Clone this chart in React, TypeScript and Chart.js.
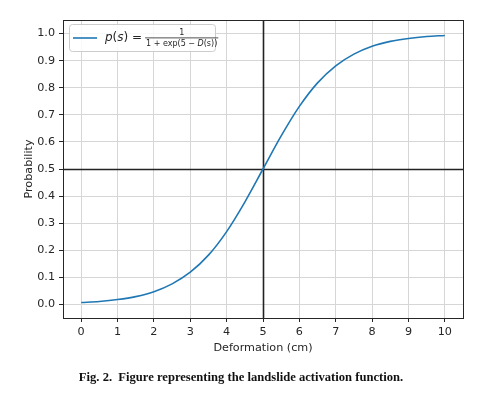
import React, { useEffect, useRef } from "react";
import { Chart, registerables } from "chart.js";

Chart.register(...registerables);

const deformation = [0, 0.5, 1, 1.5, 2, 2.5, 3, 3.5, 4, 4.5, 5, 5.5, 6, 6.5, 7, 7.5, 8, 8.5, 9, 9.5, 10];
const probability = [0.007, 0.011, 0.018, 0.029, 0.047, 0.076, 0.119, 0.182, 0.269, 0.378, 0.5, 0.622, 0.731, 0.818, 0.881, 0.924, 0.953, 0.971, 0.982, 0.989, 0.993];
const xTicks = [0, 1, 2, 3, 4, 5, 6, 7, 8, 9, 10];
const yTicks = [0, 0.1, 0.2, 0.3, 0.4, 0.5, 0.6, 0.7, 0.8, 0.9, 1.0];
const refX = 5;
const refY = 0.5;
const xTitle = "Deformation (cm)";
const yTitle = "Probability";
const caption = "Fig. 2.  Figure representing the landslide activation function.";

const FONT = "'DejaVu Sans', sans-serif";
const DARK = "#262626";
const BLUE = "#1f77b4";

const overlayPlugin = {
  id: "overlay",
  beforeDatasetsDraw(chart: any) {
    const { ctx, chartArea: a, scales } = chart;
    ctx.save();
    ctx.strokeStyle = "#222";
    ctx.lineWidth = 1.6;
    const px = Math.round(scales.x.getPixelForValue(refX)) + 0.5;
    const py = Math.round(scales.y.getPixelForValue(refY)) + 0.5;
    ctx.beginPath();
    ctx.moveTo(px, a.top);
    ctx.lineTo(px, a.bottom);
    ctx.moveTo(a.left, py);
    ctx.lineTo(a.right, py);
    ctx.stroke();
    ctx.restore();
  },
  afterDatasetsDraw(chart: any) {
    const { ctx, chartArea: a } = chart;
    ctx.save();
    ctx.strokeStyle = DARK;
    ctx.lineWidth = 1;
    ctx.strokeRect(Math.round(a.left) + 0.5, Math.round(a.top) + 0.5, Math.round(a.right - a.left), Math.round(a.bottom - a.top));
    // legend
    const lx = a.left + 6;
    const ly = a.top + 4;
    const lw = 146;
    const lh = 27;
    ctx.fillStyle = "rgba(255,255,255,0.85)";
    ctx.strokeStyle = "#cccccc";
    ctx.lineWidth = 1;
    ctx.beginPath();
    (ctx as any).roundRect(lx + 0.5, ly + 0.5, lw, lh, 3);
    ctx.fill();
    ctx.stroke();
    const cy = ly + 14;
    ctx.strokeStyle = BLUE;
    ctx.lineWidth = 1.6;
    ctx.beginPath();
    ctx.moveTo(lx + 4, cy);
    ctx.lineTo(lx + 28, cy);
    ctx.stroke();
    ctx.fillStyle = DARK;
    ctx.textBaseline = "middle";
    ctx.textAlign = "left";
    ctx.font = `italic 12px ${FONT}`;
    let tx = lx + 36;
    ctx.fillText("p", tx, cy);
    tx += ctx.measureText("p").width;
    ctx.font = `12px ${FONT}`;
    ctx.fillText("(", tx, cy);
    tx += ctx.measureText("(").width;
    ctx.font = `italic 12px ${FONT}`;
    ctx.fillText("s", tx, cy);
    tx += ctx.measureText("s").width;
    ctx.font = `12px ${FONT}`;
    ctx.fillText(") =", tx, cy);
    tx += ctx.measureText(") =").width + 3;
    ctx.font = `8px ${FONT}`;
    const d1 = "1 + exp(5 \u2212 ";
    const d2 = "D";
    const d3 = "(s))";
    const w1 = ctx.measureText(d1).width;
    const w3 = ctx.measureText(d3).width;
    ctx.font = `italic 8px ${FONT}`;
    const w2 = ctx.measureText(d2).width;
    const dw = w1 + w2 + w3;
    ctx.fillStyle = DARK;
    ctx.fillRect(tx, cy - 0.5, dw + 2, 0.8);
    ctx.font = `8px ${FONT}`;
    ctx.textAlign = "center";
    ctx.fillText("1", tx + 1 + dw / 2, cy - 5.5);
    ctx.textAlign = "left";
    let dx = tx + 1;
    ctx.fillText(d1, dx, cy + 6);
    dx += w1;
    ctx.font = `italic 8px ${FONT}`;
    ctx.fillText(d2, dx, cy + 6);
    dx += w2;
    ctx.font = `8px ${FONT}`;
    ctx.fillText(d3, dx, cy + 6);
    ctx.restore();
  },
};

export default function App() {
  const ref = useRef<HTMLCanvasElement>(null);
  useEffect(() => {
    const chart = new Chart(ref.current!, {
      type: "line",
      data: {
        datasets: [
          {
            data: deformation.map((d, i) => ({ x: d, y: probability[i] })),
            borderColor: BLUE,
            borderWidth: 1.6,
            pointRadius: 0,
            fill: false,
            cubicInterpolationMode: "monotone",
          },
        ],
      },
      options: {
        animation: false,
        responsive: false,
        events: [],
        layout: { padding: { left: 22, right: 19, top: 20, bottom: 44 } },
        plugins: { legend: { display: false }, tooltip: { enabled: false } },
        scales: {
          x: {
            type: "linear",
            min: -0.5,
            max: 10.5,
            afterBuildTicks: (s: any) => {
              s.ticks = xTicks.map((v) => ({ value: v }));
            },
            afterFit: (s: any) => {
              s.height = 37;
            },
            ticks: {
              color: DARK,
              font: { family: FONT, size: 11.2 },
              padding: 3,
              maxRotation: 0,
              autoSkip: false,
              callback: (v: any) => String(v),
            },
            grid: { color: "#d6d6d6", lineWidth: 1, tickColor: DARK, tickLength: 4 },
            border: { display: true, color: DARK },
            title: { display: true, text: xTitle, color: DARK, font: { family: FONT, size: 11.2 }, padding: { top: 0, bottom: 0 } },
          },
          y: {
            type: "linear",
            min: -0.05,
            max: 1.05,
            afterBuildTicks: (s: any) => {
              s.ticks = yTicks.map((v) => ({ value: v }));
            },
            afterFit: (s: any) => {
              s.width = 41;
            },
            ticks: {
              color: DARK,
              font: { family: FONT, size: 11.2 },
              padding: 4,
              autoSkip: false,
              callback: (v: any) => Number(v).toFixed(1),
            },
            grid: { color: "#d6d6d6", lineWidth: 1, tickColor: DARK, tickLength: 4 },
            border: { display: true, color: DARK },
            title: { display: true, text: yTitle, color: DARK, font: { family: FONT, size: 11.2 }, padding: { top: 0, bottom: 0 } },
          },
        },
      },
      plugins: [overlayPlugin],
    } as any);
    return () => chart.destroy();
  }, []);
  return (
    <div style={{ position: "absolute", left: 0, top: 0, width: 482, height: 399, background: "#fff" }}>
      <canvas ref={ref} width={482} height={399} style={{ position: "absolute", left: 0, top: 0 }} />
      <div
        style={{
          position: "absolute",
          left: 0,
          top: 370,
          width: 482,
          textAlign: "center",
          fontFamily: "'Liberation Serif', 'Times New Roman', serif",
          fontWeight: "bold",
          fontSize: 12.6,
          color: "#111",
          whiteSpace: "pre",
        }}
      >
        {caption}
      </div>
    </div>
  );
}
